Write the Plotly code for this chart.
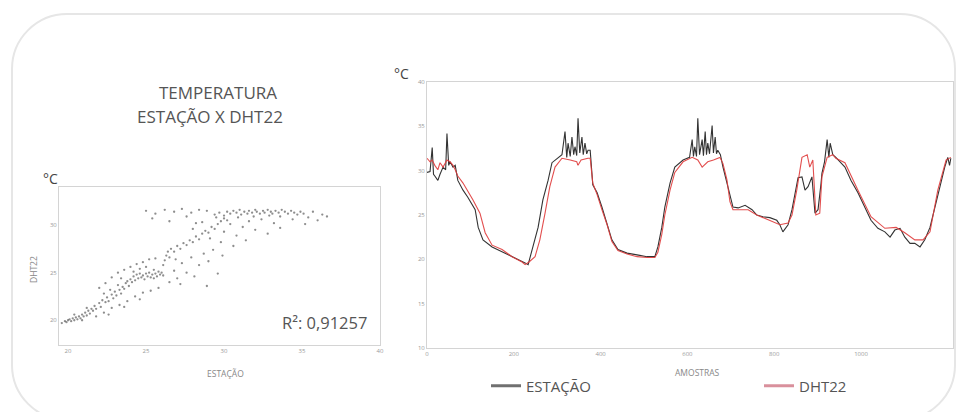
import plotly.graph_objects as go

# ---------------- data: time series ----------------
amostras_est = [0,7,12,15,18,25,30,37,43,46,50,53,60,65,71,83,94,111,118,129,
                150,180,203,226,233,242,256,267,279,288,302,311,318,322,325,330,334,338,341,345,
                348,352,357,360,364,368,371,376,382,392,403,415,426,440,461,484,507,525,532,541,
                548,560,571,590,605,611,614,617,621,624,628,634,637,641,644,647,651,657,660,664,
                667,670,676,682,691,698,705,717,733,749,760,774,790,806,813,820,826,832,841,848,
                855,864,871,878,887,894,901,908,910,916,922,926,929,935,942,963,977,993,1009,1023,
                1039,1055,1067,1078,1090,1101,1113,1124,1136,1147,1159,1170,1182,1193,1200,1204,1207]
temp_est = [29.8,29.9,32.6,29.6,29.4,28.9,29.6,30.4,30.1,34.2,30.6,31.0,30.4,30.6,28.9,27.8,27.0,25.6,23.6,22.2,
            21.4,20.7,20.2,19.6,19.4,21.1,23.6,26.7,28.9,30.9,31.5,31.8,34.4,31.5,33.1,31.6,33.8,31.8,32.7,31.7,
            35.9,32.0,33.8,31.8,33.1,31.9,32.3,32.3,28.4,27.5,25.9,24.1,22.2,21.1,20.7,20.5,20.3,20.3,21.4,23.6,
            25.9,28.6,30.4,31.2,31.5,33.5,31.6,32.7,31.6,35.9,31.8,33.5,31.7,34.4,31.8,33.1,31.9,35.1,32.0,33.8,
            31.9,32.3,31.8,30.4,28.6,27.0,25.9,25.8,26.1,25.6,25.0,24.8,24.7,24.4,23.9,23.1,23.5,23.9,25.6,27.5,
            29.2,29.3,27.8,28.2,29.3,25.2,25.6,28.6,29.7,31.0,33.5,31.5,33.1,31.8,31.5,30.4,28.9,27.5,25.9,24.4,
            23.5,23.1,22.5,23.3,23.5,22.5,21.8,21.8,21.4,22.2,23.6,25.9,28.2,30.4,31.5,30.6,31.4]

amostras_dht = [0,7,12,18,25,30,37,46,53,60,65,71,83,106,122,134,150,173,196,219,
                226,235,249,260,272,283,295,311,330,345,348,355,371,376,382,392,403,415,426,440,
                461,484,507,525,532,541,548,560,571,590,611,624,634,647,660,675,682,691,698,705,
                721,740,760,790,813,832,841,852,864,876,882,889,896,905,910,922,935,942,963,993,
                1023,1055,1081,1101,1124,1143,1159,1177,1196,1207]
temp_dht = [31.4,31.0,31.2,30.6,30.1,30.9,30.4,31.2,31.0,30.6,30.1,29.4,28.6,26.7,25.2,23.0,21.6,21.1,20.3,19.7,
            19.4,19.7,20.3,22.2,25.2,28.2,30.4,31.4,31.2,31.0,30.6,31.2,31.4,31.4,28.6,27.3,25.6,23.9,22.0,21.0,
            20.6,20.3,20.2,20.2,20.8,22.8,25.0,27.8,29.8,31.0,31.5,31.2,30.4,31.0,31.2,31.5,30.8,29.0,26.5,25.6,
            25.6,25.6,25.0,24.4,23.9,24.1,25.0,27.8,31.5,31.8,30.4,31.2,25.0,25.2,29.3,31.5,31.8,31.4,30.9,27.8,
            24.8,23.5,23.6,23.0,22.2,22.2,23.1,27.8,31.2,31.5]

# ---------------- data: dispersion (ESTAÇÃO x DHT22) ----------------
est_a = [19.6,19.8,19.9,20.0,20.1,20.2,20.3,20.4,20.5,20.6,20.7,20.8,20.9,21.0,21.1,21.2,21.3,21.4,21.5,20.4,20.9,21.2,21.6]
dht_a = [19.7,19.9,19.8,20.0,20.1,19.9,20.2,20.0,20.3,20.1,20.4,20.2,20.6,20.4,20.8,20.5,21.0,20.7,21.2,20.6,20.0,21.3,21.0]
est_b = [21.7,21.8,22.0,22.1,22.2,22.4,22.5,22.6,22.8,22.9,23.0,23.1,23.3,23.4,23.5,22.3,22.7,23.2]
dht_b = [21.5,21.2,21.8,21.4,22.1,21.9,22.4,22.0,22.7,22.3,23.0,22.6,23.2,22.8,23.5,22.8,23.2,23.7]
est_c = [23.6,23.7,23.8,23.9,24.0,24.1,24.2,24.3,24.4,24.5,24.6,24.7,24.8,24.9,25.0,25.1,25.2,25.3,25.4,25.5,25.6,25.7,25.8,25.9,26.0,26.1,24.6,25.0,25.5]
dht_c = [23.3,23.9,24.1,23.6,24.3,24.0,24.6,24.2,24.8,24.4,24.9,24.5,24.7,24.3,24.9,24.6,25.0,24.5,24.8,24.4,24.9,24.6,25.1,24.8,25.0,24.7,25.4,25.6,25.3]
est_d = [22.0,22.4,22.8,23.2,23.6,24.0,24.4,24.8,25.2,25.6,23.4,24.2]
dht_d = [23.4,23.9,24.5,25.0,25.3,25.6,25.9,26.1,26.4,26.5,24.4,25.1]
est_e = [21.8,22.3,22.8,23.3,23.8,24.3,24.8,25.3,25.8,22.6,23.6,24.6]
dht_e = [20.4,20.8,21.3,21.6,22.0,22.5,22.9,23.1,23.4,20.6,21.4,22.2]
est_f = [26.1,26.2,26.3,26.4,26.5,26.6,26.8,27.0,27.2,27.4,27.6,27.8,28.0,28.2,28.4,28.6,28.8,29.0,29.2,29.4,29.6,29.8,30.0,30.2]
dht_f = [25.8,26.3,26.8,27.2,26.6,27.5,27.2,27.8,27.5,28.1,27.9,28.4,28.2,28.8,28.5,29.1,29.4,29.2,29.8,29.6,30.1,30.4,30.7,30.5]
est_g = [26.5,26.8,27.0,27.3,27.6,27.9,28.1,28.4,28.7,29.0,29.3,29.6,27.2,28.9,29.9,26.9]
dht_g = [24.0,25.2,24.4,26.0,25.0,26.6,24.6,25.8,27.0,26.2,27.4,24.9,23.8,23.6,26.8,26.4]
est_h = [25.0,25.6,26.2,26.8,27.3,27.9,28.4,28.9,25.4,26.5,27.6,28.2]
dht_h = [31.5,31.2,31.6,31.4,31.7,31.3,31.6,31.5,30.7,30.4,30.9,30.2]
est_i = [28.0,28.6,29.1,29.5,30.0,30.4,30.8,31.2,31.6,32.0,32.4,32.8,30.6,29.8,31.4,33.2,33.6]
dht_i = [29.6,30.3,28.6,30.8,29.3,30.1,28.9,29.8,30.4,29.5,30.6,29.1,27.8,28.2,28.4,30.2,29.7]
est_j = [29.4,29.7,30.0,30.2,30.4,30.6,30.8,31.0,31.1,31.3,31.5,31.6,31.8,32.0,32.1,32.3,32.5,32.6,32.8,33.0,
         33.1,33.3,33.5,33.7,33.9,34.1,34.3,34.5,34.7,34.9,31.9,32.9,30.9,33.6]
dht_j = [31.1,31.3,31.0,31.4,31.2,31.5,31.3,31.6,31.1,31.4,31.2,31.5,31.3,31.6,31.4,31.2,31.5,31.3,31.6,31.4,
         31.2,31.5,31.3,31.6,31.4,31.2,31.5,31.3,31.1,31.4,30.9,31.0,30.8,30.9]
est_k = [35.1,35.4,35.7,36.0,36.3,36.6,35.2,34.4]
dht_k = [31.2,30.8,31.4,30.5,31.1,30.9,30.1,30.6]

est_disp = est_a + est_b + est_c + est_d + est_e + est_f + est_g + est_h + est_i + est_j + est_k
dht_disp = dht_a + dht_b + dht_c + dht_d + dht_e + dht_f + dht_g + dht_h + dht_i + dht_j + dht_k

# ticks / labels
disp_xticks = [20, 25, 30, 35, 40]
disp_yticks = [20, 25, 30]
serie_xticks = [0, 200, 400, 600, 800, 1000]
serie_yticks = [10, 15, 20, 25, 30, 35, 40]
title_lines = ["TEMPERATURA", "ESTAÇÃO X DHT22"]
r2_text = "R²: 0,91257"

# ---------------- figure ----------------
W, H = 958, 412
def PX(x): return x / W
def PY(y): return (H - y) / H

FONT = "Open Sans"
fig = go.Figure()

fig.add_trace(go.Scatter(x=est_disp, y=dht_disp, mode="markers", xaxis="x", yaxis="y",
                         marker=dict(size=2.3, color="rgba(30,30,30,0.5)"), showlegend=False))

fig.add_trace(go.Scatter(x=amostras_est, y=temp_est, mode="lines", xaxis="x2", yaxis="y2",
                         line=dict(color="#333333", width=1.1), showlegend=False))
fig.add_trace(go.Scatter(x=amostras_dht, y=temp_dht, mode="lines", xaxis="x2", yaxis="y2",
                         line=dict(color="#e03c3c", width=1.1), opacity=0.9, showlegend=False))

# legend entries
fig.add_trace(go.Scatter(x=[None], y=[None], mode="lines", name="ESTAÇÃO", xaxis="x2", yaxis="y2",
                         line=dict(color="#707070", width=3)))
fig.add_trace(go.Scatter(x=[None], y=[None], mode="lines", name="DHT22", xaxis="x2", yaxis="y2",
                         line=dict(color="#d9909c", width=3)))

axis_common = dict(showline=True, mirror=True, linecolor="#d4d4d4", linewidth=1, showgrid=False,
                   zeroline=False, ticks="", automargin=False,
                   tickfont=dict(size=6, color="#9a9a9a", family=FONT))

# rounded frame
L, R, T, B, r = 12, 955, 14, 420, 55
k = 0.5523
pts = [("M", [(L + r, T)]), ("L", [(R - r, T)]),
       ("C", [(R - r + k * r, T), (R, T + r - k * r), (R, T + r)]), ("L", [(R, B - r)]),
       ("C", [(R, B - r + k * r), (R - r + k * r, B), (R - r, B)]), ("L", [(L + r, B)]),
       ("C", [(L + r - k * r, B), (L, B - r + k * r), (L, B - r)]), ("L", [(L, T + r)]),
       ("C", [(L, T + r - k * r), (L + r - k * r, T), (L + r, T)])]
path = " ".join(c + " " + " ".join(f"{PX(a):.5f},{PY(b):.5f}" for a, b in p) for c, p in pts) + " Z"

ann = dict(xref="paper", yref="paper", showarrow=False, xanchor="center", yanchor="middle")
small = dict(size=8.5, color="#888888", family=FONT)
fig.update_layout(
    width=W, height=H, margin=dict(l=0, r=0, t=0, b=0, autoexpand=False),
    paper_bgcolor="white", plot_bgcolor="white",
    font=dict(family=FONT, color="#555555"),
    xaxis=dict(domain=[PX(59), PX(380)], range=[19.42, 40], tickvals=disp_xticks, anchor="y", **axis_common),
    yaxis=dict(domain=[PY(345), PY(187)], range=[17.4, 34], tickvals=disp_yticks, anchor="x", **axis_common),
    xaxis2=dict(domain=[PX(427), PX(953)], range=[0, 1212], tickvals=serie_xticks, anchor="y2", **axis_common),
    yaxis2=dict(domain=[PY(348), PY(82)], range=[10, 40], tickvals=serie_yticks, anchor="x2", **axis_common),
    showlegend=True,
    legend=dict(orientation="h", x=PX(486), y=PY(386), xanchor="left", yanchor="middle",
                entrywidth=228, entrywidthmode="pixels", bgcolor="rgba(0,0,0,0)",
                font=dict(size=15, color="#555555", family=FONT)),
    shapes=[dict(type="path", xref="paper", yref="paper", path=path,
                 line=dict(color="#e6e6e6", width=2), fillcolor="rgba(0,0,0,0)", layer="below")],
    annotations=[
        dict(x=PX(218), y=PY(92), text=title_lines[0], font=dict(size=17, color="#555555", family=FONT), **ann),
        dict(x=PX(210), y=PY(116), text=title_lines[1], font=dict(size=17, color="#555555", family=FONT), **ann),
        dict(x=PX(50), y=PY(178), text="°C", font=dict(size=14, color="#444444", family=FONT), **ann),
        dict(x=PX(401), y=PY(73), text="°C", font=dict(size=14, color="#444444", family=FONT), **ann),
        dict(x=PX(33), y=PY(270), text="DHT22", textangle=-90, font=small, **ann),
        dict(x=PX(225), y=PY(373), text="ESTAÇÃO", font=small, **ann),
        dict(x=PX(697), y=PY(372), text="AMOSTRAS", font=small, **ann),
        dict(x=PX(369), y=PY(322), text=r2_text, xanchor="right", yanchor="middle", xref="paper", yref="paper",
             showarrow=False, font=dict(size=16.5, color="#555555", family=FONT)),
    ],
)

fig.write_html("out.html", config={"displayModeBar": False},
               post_script="document.body.style.margin='0px';")
